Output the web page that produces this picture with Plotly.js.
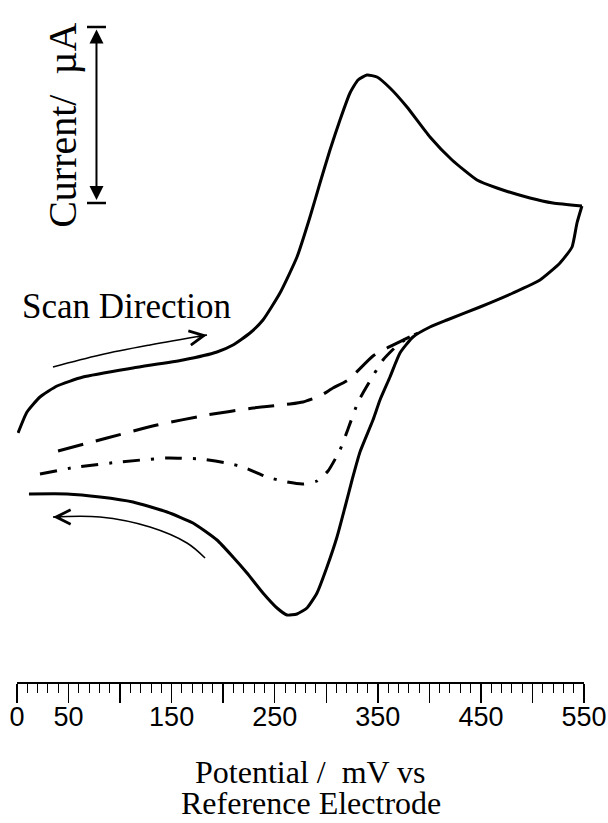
<!DOCTYPE html>
<html><head><meta charset="utf-8">
<script src="https://cdn.plot.ly/plotly-3.0.1.min.js"></script>
<style>html,body{margin:0;padding:0;background:#fff}</style>
</head><body><div id="chart" style="width:608px;height:823px"></div>
<script>
// Forward (anodic) scan, mV vs reference, arbitrary current units
const fwdPotential = [1.0, 9.7, 22.3, 38.8, 64.0, 112.5, 161.0, 194.0, 209.5, 226.0, 238.6, 255.1, 271.6, 284.2, 293.9, 303.6, 313.3, 323.0, 330.8, 339.5, 349.2, 361.8, 378.3, 400.6, 422.0, 446.2, 465.6, 497.6, 519.9, 548.0];
const fwdCurrent   = [24.9, 27.0, 28.5, 29.6, 30.5, 31.4, 32.2, 33.0, 33.7, 34.9, 36.2, 38.9, 42.5, 46.5, 49.9, 53.2, 56.2, 58.9, 60.2, 60.7, 60.5, 59.4, 57.5, 54.5, 52.2, 50.2, 49.4, 48.4, 47.9, 47.6];
// Reverse (cathodic) scan
const revPotential = [548.0, 543.2, 538.4, 526.7, 507.3, 481.1, 449.1, 417.1, 400.6, 384.1, 371.5, 361.8, 352.1, 345.3, 332.7, 325.0, 318.2, 310.4, 300.7, 291.0, 281.3, 271.6, 261.9, 252.2, 238.6, 223.1, 209.5, 194.0, 170.7, 145.5, 112.5, 80.5, 48.5, 11.6];
const revCurrent   = [47.6, 45.9, 43.5, 41.9, 40.2, 38.9, 37.5, 36.2, 35.5, 34.5, 32.9, 30.5, 28.2, 26.2, 23.0, 20.2, 17.5, 14.5, 11.5, 8.9, 7.4, 6.8, 6.7, 7.4, 8.9, 10.9, 12.5, 14.2, 15.9, 17.0, 18.0, 18.5, 18.8, 18.8];
// Dashed return curve
const dashPotential = [39.8, 87.3, 135.8, 184.3, 228.9, 264.8, 277.4, 293.9, 306.5, 321.1, 345.3, 358.9, 389.0];
const dashCurrent   = [23.1, 24.4, 25.7, 26.7, 27.4, 27.8, 28.0, 28.6, 29.4, 30.2, 32.6, 33.4, 34.9];
// Dash-dot return curve
const dotPotential = [22.3, 58.2, 99.9, 145.5, 177.5, 203.7, 219.2, 242.5, 261.9, 277.4, 291.0, 301.7, 313.3, 321.1, 330.8, 339.5, 355.0, 371.5, 389.0];
const dotCurrent   = [20.8, 21.5, 22.0, 22.4, 22.3, 21.9, 21.5, 20.5, 20.0, 19.8, 20.1, 21.1, 23.2, 25.3, 28.0, 29.6, 32.2, 33.9, 34.9];
// Scan direction arrows
const arrowFwdX = [34.9, 80.5, 129.0, 184.3];
const arrowFwdY = [31.5, 32.7, 33.7, 34.7];
const arrowRevX = [182.4, 164.9, 129.0, 80.5, 34.9];
const arrowRevY = [12.4, 13.9, 15.5, 16.5, 16.5];
// Tick labels
const tickVals = [0, 50, 100, 150, 200, 250, 300, 350, 400, 450, 500, 550];
const tickText = ['0', '50', '', '150', '', '250', '', '350', '', '450', '', '550'];

const solid = {color: '#000', width: 3, shape: 'spline', smoothing: 0.5};
const traces = [
  {x: fwdPotential, y: fwdCurrent, mode: 'lines', line: solid},
  {x: revPotential, y: revCurrent, mode: 'lines', line: solid},
  {x: dashPotential, y: dashCurrent, mode: 'lines', line: {color: '#000', width: 3, dash: '26px,13px', shape: 'spline', smoothing: 0.5}},
  {x: dotPotential, y: dotCurrent, mode: 'lines', line: {color: '#000', width: 3, dash: '17px,11px,3px,11px', shape: 'spline', smoothing: 0.5}},
  {x: arrowFwdX, y: arrowFwdY, mode: 'lines', line: {color: '#000', width: 1.5, shape: 'spline'}},
  {x: arrowRevX, y: arrowRevY, mode: 'lines', line: {color: '#000', width: 1.5, shape: 'spline'}}
];

function headAt(xs, ys) {
  const n = xs.length;
  const x = xs[n - 1], y = ys[n - 1];
  const ax = x - 0.2 * (x - xs[n - 2]);
  const ay = y - 0.2 * (y - ys[n - 2]);
  return {x: x, y: y, ax: ax, ay: ay, xref: 'x', yref: 'y', axref: 'x', ayref: 'y',
    text: '', showarrow: true, arrowhead: 5, arrowwidth: 1.5, arrowsize: 1.9, arrowcolor: '#000', standoff: 0};
}

const serif = '"Liberation Serif", "Times New Roman", Times, serif';
const annotations = [
  headAt(arrowFwdX, arrowFwdY),
  headAt(arrowRevX, arrowRevY),
  {x: 77.1, y: 48.2, ax: 77.1, ay: 65.4, xref: 'x', yref: 'y', axref: 'x', ayref: 'y',
   text: '', showarrow: true, arrowside: 'end+start', arrowhead: 2, startarrowhead: 2,
   arrowwidth: 2, arrowsize: 1.4, startarrowsize: 1.4, arrowcolor: '#000', standoff: 0, startstandoff: 0},
  {x: 43.5, y: 55.7, xref: 'x', yref: 'y', text: 'Current/\u00a0 \u00b5A', textangle: -90, showarrow: false,
   font: {family: serif, size: 40, color: '#000'}},
  {x: 2.9, y: 37.6, xref: 'x', yref: 'y', xanchor: 'left', yanchor: 'middle', text: 'Scan Direction', showarrow: false,
   font: {family: serif, size: 35, color: '#000'}},
  {x: 0.5185, y: -0.1325, xref: 'paper', yref: 'paper', xanchor: 'center', yanchor: 'middle', text: 'Potential /\u00a0 mV vs', showarrow: false,
   font: {family: serif, size: 32, color: '#000'}},
  {x: 0.5185, y: -0.1772, xref: 'paper', yref: 'paper', xanchor: 'center', yanchor: 'middle', text: 'Reference Electrode', showarrow: false,
   font: {family: serif, size: 32, color: '#000'}}
];

const layout = {
  width: 608, height: 823,
  margin: {l: 17, r: 24, t: 0, b: 141, pad: 0},
  paper_bgcolor: '#fff', plot_bgcolor: '#fff',
  showlegend: false,
  xaxis: {
    range: [0, 550], showgrid: false, zeroline: false,
    showline: true, linecolor: '#000', linewidth: 2,
    ticks: 'outside', tickvals: tickVals, ticktext: tickText,
    ticklen: 19, tickwidth: 1.5, tickcolor: '#000',
    ticklabeloverflow: 'allow', ticklabelstandoff: -9,
    minor: {dtick: 10, tick0: 0, ticks: 'outside', ticklen: 9, tickwidth: 1, tickcolor: '#000'},
    tickfont: {family: '"Liberation Sans", Arial, sans-serif', size: 27, color: '#000'},
    fixedrange: true
  },
  yaxis: {range: [0, 68.2], visible: false, fixedrange: true},
  shapes: [
    {type: 'line', xref: 'x', yref: 'y', x0: 67.9, x1: 86.3, y0: 65.5, y1: 65.5, line: {color: '#000', width: 2.5}},
    {type: 'line', xref: 'x', yref: 'y', x0: 67.9, x1: 86.3, y0: 47.9, y1: 47.9, line: {color: '#000', width: 2.5}}
  ],
  annotations: annotations
};

Plotly.newPlot('chart', traces, layout, {displayModeBar: false, staticPlot: true});
</script>
</body></html>
